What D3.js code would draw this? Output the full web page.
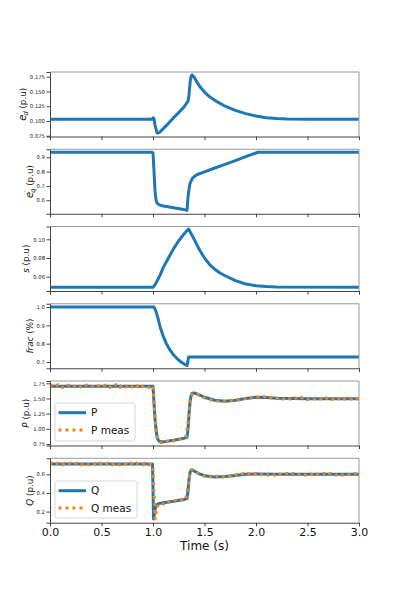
<!DOCTYPE html>
<html>
<head>
<meta charset="utf-8">
<script src="https://cdn.jsdelivr.net/npm/d3@7"></script>
<style>
  html, body { margin: 0; padding: 0; background: #fff; }
  svg { display: block; font-family: "DejaVu Sans", sans-serif; }
</style>
</head>
<body>
<svg id="chart" width="399" height="598"></svg>
<script>
// ---------------- DATA ----------------
const xTicks = [0, 0.5, 1.0, 1.5, 2.0, 2.5, 3.0];

// e'_d (p.u)
const edT = [0, 0.99, 1.0, 1.01, 1.02, 1.04, 1.06, 1.10, 1.15, 1.20, 1.25, 1.30, 1.34, 1.35, 1.36, 1.37, 1.38, 1.40, 1.43, 1.46, 1.50, 1.55, 1.60, 1.70, 1.80, 1.90, 2.00, 2.10, 2.20, 2.30, 2.50, 3.00];
const edV = [0.1028, 0.1028, 0.1055, 0.1040, 0.0920, 0.0795, 0.0800, 0.0870, 0.0960, 0.1055, 0.1145, 0.1235, 0.1335, 0.1450, 0.1650, 0.1760, 0.1780, 0.1740, 0.1650, 0.1570, 0.1490, 0.1410, 0.1350, 0.1250, 0.1180, 0.1125, 0.1085, 0.1055, 0.1040, 0.1032, 0.1028, 0.1028];
const edTicks = [0.075, 0.100, 0.125, 0.150, 0.175];

// e'_q (p.u)
const eqT = [0, 0.99, 1.0, 1.01, 1.02, 1.03, 1.04, 1.06, 1.10, 1.20, 1.30, 1.33, 1.34, 1.35, 1.36, 1.38, 1.40, 1.43, 1.50, 1.60, 1.70, 1.80, 1.90, 2.00, 2.02, 2.10, 3.00];
const eqV = [0.935, 0.935, 0.930, 0.800, 0.660, 0.600, 0.580, 0.568, 0.560, 0.548, 0.535, 0.530, 0.620, 0.680, 0.720, 0.750, 0.765, 0.780, 0.798, 0.825, 0.851, 0.877, 0.904, 0.930, 0.935, 0.935, 0.935];
const eqTicks = [0.6, 0.7, 0.8, 0.9];

// s (p.u)
const sT = [0, 1.0, 1.02, 1.04, 1.07, 1.10, 1.15, 1.20, 1.25, 1.30, 1.34, 1.345, 1.36, 1.40, 1.45, 1.50, 1.55, 1.60, 1.65, 1.70, 1.80, 1.90, 2.00, 2.10, 2.20, 3.00];
const sV = [0.0487, 0.0487, 0.0515, 0.0555, 0.0620, 0.0700, 0.0800, 0.0900, 0.0985, 0.1055, 0.1105, 0.1110, 0.1080, 0.1000, 0.0890, 0.0800, 0.0730, 0.0680, 0.0640, 0.0610, 0.0558, 0.0522, 0.0503, 0.0494, 0.0489, 0.0487];
const sTicks = [0.06, 0.08, 0.10];

// frac (%)
const fracT = [0, 1.01, 1.03, 1.05, 1.07, 1.10, 1.13, 1.16, 1.20, 1.24, 1.28, 1.31, 1.33, 1.335, 1.345, 1.35, 3.0];
const fracV = [1.0, 1.0, 0.975, 0.935, 0.890, 0.840, 0.800, 0.770, 0.738, 0.715, 0.697, 0.687, 0.681, 0.690, 0.727, 0.727, 0.727];
const fracTicks = [0.7, 0.8, 0.9, 1.0];

// P model
const pT = [0, 1.0, 1.01, 1.02, 1.03, 1.04, 1.05, 1.06, 1.08, 1.10, 1.20, 1.30, 1.33, 1.34, 1.35, 1.36, 1.37, 1.38, 1.40, 1.45, 1.50, 1.60, 1.70, 1.80, 1.90, 2.00, 2.10, 2.20, 2.50, 3.00];
const pV = [1.70, 1.70, 1.42, 1.15, 0.97, 0.87, 0.82, 0.795, 0.785, 0.785, 0.81, 0.845, 0.86, 1.00, 1.25, 1.45, 1.55, 1.585, 1.59, 1.56, 1.52, 1.47, 1.455, 1.47, 1.50, 1.52, 1.515, 1.505, 1.495, 1.495];
// P measured, sampled every 0.02 s from 0 to 3.0
const measStep = 0.02;
const pMeas = [
  1.70,1.72,1.69,1.71,1.73,1.70,1.68,1.71,1.70,1.72,
  1.71,1.68,1.70,1.73,1.71,1.69,1.68,1.71,1.72,1.70,
  1.68,1.70,1.72,1.73,1.70,1.68,1.70,1.72,1.70,1.68,
  1.72,1.70,1.73,1.70,1.68,1.72,1.70,1.69,1.72,1.68,
  1.70,1.73,1.70,1.72,1.68,1.70,1.72,1.70,1.68,1.71,
  1.70,1.16,0.87,0.80,0.77,0.79,0.78,0.80,0.79,0.81,
  0.80,0.82,0.81,0.83,0.84,0.85,0.87,1.10,1.45,1.57,
  1.59,1.58,1.56,1.54,1.53,1.51,1.50,1.49,1.48,1.47,
  1.47,1.46,1.46,1.45,1.46,1.45,1.46,1.46,1.47,1.46,
  1.47,1.48,1.48,1.49,1.50,1.50,1.51,1.50,1.52,1.51,
  1.53,1.52,1.52,1.51,1.53,1.51,1.50,1.52,1.50,1.51,
  1.50,1.52,1.50,1.49,1.50,1.52,1.50,1.48,1.50,1.51,
  1.49,1.50,1.52,1.49,1.50,1.48,1.50,1.51,1.49,1.50,
  1.51,1.49,1.50,1.48,1.51,1.49,1.50,1.48,1.51,1.49,
  1.50,1.48,1.51,1.49,1.48,1.50,1.49,1.51,1.49,1.50,
  1.49];
const pTicks = [0.75, 1.00, 1.25, 1.50, 1.75];

// Q model
const qT = [0, 0.995, 1.0, 1.005, 1.01, 1.02, 1.03, 1.05, 1.10, 1.20, 1.30, 1.33, 1.34, 1.35, 1.36, 1.37, 1.38, 1.40, 1.45, 1.50, 1.60, 1.70, 1.80, 1.90, 2.00, 2.20, 2.50, 3.00];
const qV = [0.71, 0.71, 0.45, 0.12, 0.15, 0.22, 0.26, 0.285, 0.295, 0.31, 0.33, 0.34, 0.42, 0.55, 0.62, 0.645, 0.645, 0.635, 0.605, 0.585, 0.572, 0.575, 0.588, 0.60, 0.603, 0.60, 0.60, 0.60];
// Q measured, sampled every 0.02 s from 0 to 3.0
const qMeas = [
  0.71,0.72,0.70,0.71,0.72,0.71,0.70,0.72,0.71,0.71,
  0.72,0.70,0.71,0.72,0.71,0.70,0.71,0.72,0.71,0.70,
  0.71,0.72,0.71,0.70,0.72,0.71,0.71,0.70,0.72,0.71,
  0.70,0.71,0.72,0.71,0.70,0.72,0.71,0.71,0.70,0.72,
  0.71,0.70,0.72,0.71,0.71,0.70,0.72,0.71,0.70,0.71,
  0.66,0.12,0.25,0.28,0.29,0.28,0.30,0.29,0.31,0.30,
  0.31,0.32,0.31,0.32,0.33,0.32,0.34,0.47,0.62,0.65,
  0.64,0.62,0.61,0.60,0.59,0.58,0.59,0.58,0.57,0.58,
  0.57,0.58,0.57,0.56,0.57,0.58,0.57,0.58,0.59,0.58,
  0.59,0.60,0.59,0.60,0.61,0.60,0.61,0.60,0.61,0.60,
  0.61,0.60,0.59,0.60,0.61,0.60,0.59,0.61,0.60,0.59,
  0.60,0.61,0.60,0.59,0.60,0.61,0.60,0.59,0.61,0.60,
  0.59,0.60,0.61,0.60,0.59,0.60,0.61,0.60,0.59,0.61,
  0.60,0.59,0.60,0.61,0.60,0.59,0.61,0.60,0.60,0.59,
  0.61,0.60,0.59,0.60,0.61,0.60,0.59,0.60,0.61,0.60,
  0.60];
const qTicks = [0.2, 0.4, 0.6];

// ---------------- LAYOUT ----------------
const BLUE = "#1f77b4", ORANGE = "#ff7f0e";
const svg = d3.select("#chart");
svg.append("rect").attr("width", 399).attr("height", 598).attr("fill", "#fff");

const x = d3.scaleLinear().domain([0, 3]).range([50, 359]);
const panelTop = k => 72 + 77.25 * k;
const panelH = 64.5;

const panels = [
  { t: edT, v: edV, ticks: edTicks, fmt: ".3f", dom: [0.0737, 0.183], label: "ed" },
  { t: eqT, v: eqV, ticks: eqTicks, fmt: ".1f", dom: [0.506, 0.956], label: "eq" },
  { t: sT, v: sV, ticks: sTicks, fmt: ".2f", dom: [0.0447, 0.1137], label: "s" },
  { t: fracT, v: fracV, ticks: fracTicks, fmt: ".1f", dom: [0.666, 1.0177], label: "frac" },
  { t: pT, v: pV, meas: pMeas, ticks: pTicks, fmt: ".2f", dom: [0.725, 1.788], label: "P", legend: ["P", "P meas"], legendBox: [55, 403, 80, 38] },
  { t: qT, v: qV, meas: qMeas, ticks: qTicks, fmt: ".1f", dom: [0.08, 0.772], label: "Q", legend: ["Q", "Q meas"], legendBox: [55, 481, 82, 37] }
];

panels.forEach((p, k) => {
  const top = panelTop(k), bot = top + panelH;
  const y = d3.scaleLinear().domain(p.dom).range([bot, top]);
  const g = svg.append("g");

  const cid = "clip" + k;
  svg.append("clipPath").attr("id", cid).append("rect")
    .attr("x", 50).attr("y", top).attr("width", 309).attr("height", panelH);

  const line = d3.line().x(d => x(d[0])).y(d => y(d[1]));
  const pts = p.t.map((t, i) => [t, p.v[i]]);
  g.append("path").datum(pts).attr("d", line).attr("clip-path", `url(#${cid})`)
    .attr("fill", "none").attr("stroke", BLUE).attr("stroke-width", 3)
    .attr("stroke-linejoin", "round").attr("stroke-linecap", "butt");

  if (p.meas) {
    const mpts = p.meas.map((v, i) => [i * measStep, v]);
    g.append("path").datum(mpts).attr("d", line).attr("clip-path", `url(#${cid})`)
      .attr("fill", "none").attr("stroke", ORANGE).attr("stroke-width", 3)
      .attr("stroke-dasharray", "3,4").attr("stroke-linejoin", "round");
  }

  // spines
  g.append("line").attr("x1", 50).attr("x2", 359).attr("y1", top).attr("y2", top).attr("stroke", "#999").attr("stroke-width", 1);
  g.append("line").attr("x1", 359).attr("x2", 359).attr("y1", top).attr("y2", bot).attr("stroke", "#999").attr("stroke-width", 1);

  // y axis
  const ya = g.append("g").attr("transform", "translate(50,0)")
    .call(d3.axisLeft(y).tickValues(p.ticks).tickFormat(d3.format(p.fmt)).tickSize(3.5).tickPadding(1.5));
  ya.select(".domain").attr("stroke", "#444");
  ya.selectAll(".tick line").attr("stroke", "#444");
  ya.selectAll(".tick text").attr("font-size", 5.3).attr("fill", "#222").attr("font-family", "DejaVu Sans");

  // x axis
  const xa = g.append("g").attr("transform", `translate(0,${bot})`)
    .call(d3.axisBottom(x).tickValues(xTicks).tickFormat(k === 5 ? d3.format(".1f") : () => "").tickSize(3.5).tickPadding(2));
  xa.select(".domain").attr("stroke", "#444");
  xa.selectAll(".tick line").attr("stroke", "#444");
  xa.selectAll(".tick text").attr("font-size", 11).attr("fill", "#111").attr("font-family", "DejaVu Sans");

  // y label (placed left of the tick labels)
  let minX = 50;
  ya.selectAll(".tick text").each(function () {
    const b = this.getBBox();
    minX = Math.min(minX, 50 + b.x);
  });
  const lx = minX - 4;
  const ly = (top + bot) / 2;
  const lab = g.append("text").attr("transform", `translate(${lx},${ly}) rotate(-90)`)
    .attr("text-anchor", "middle").attr("font-size", 8.8).attr("fill", "#111");
  if (p.label === "ed" || p.label === "eq") {
    lab.append("tspan").attr("font-style", "italic").attr("font-size", 10).text("e");
    lab.append("tspan").attr("font-size", 6.5).attr("dy", -3.6).text("′");
    lab.append("tspan").attr("font-size", 6.5).attr("font-style", "italic").attr("dx", -2.4).attr("dy", 6).text(p.label === "ed" ? "d" : "q");
    lab.append("tspan").attr("dy", -2.4).text(" (p.u)");
  } else if (p.label === "frac") {
    lab.append("tspan").attr("font-style", "italic").text("frac");
    lab.append("tspan").text(" (%)");
  } else {
    lab.append("tspan").attr("font-style", "italic").text(p.label);
    lab.append("tspan").text(" (p.u)");
  }

  // legend
  if (p.legend) {
    const [bx, by, bw, bh] = p.legendBox;
    const lg = g.append("g");
    lg.append("rect").attr("x", bx).attr("y", by).attr("width", bw).attr("height", bh)
      .attr("rx", 2).attr("fill", "#fff").attr("fill-opacity", 0.8).attr("stroke", "#ccc").attr("stroke-width", 0.8);
    const rows = [by + 9.7, by + 27];
    lg.append("line").attr("x1", bx + 3.5).attr("x2", bx + 31).attr("y1", rows[0]).attr("y2", rows[0])
      .attr("stroke", BLUE).attr("stroke-width", 3);
    lg.append("line").attr("x1", bx + 3.5).attr("x2", bx + 31).attr("y1", rows[1]).attr("y2", rows[1])
      .attr("stroke", ORANGE).attr("stroke-width", 3).attr("stroke-dasharray", "3,4");
    p.legend.forEach((txt, i) => {
      lg.append("text").attr("x", bx + 36).attr("y", rows[i] + 3.7)
        .attr("font-size", 10.5).attr("fill", "#111").text(txt);
    });
  }
});

// x axis title
svg.append("text").attr("x", 204.5).attr("y", 550).attr("text-anchor", "middle")
  .attr("font-size", 12).attr("fill", "#111").text("Time (s)");
</script>
</body>
</html>
